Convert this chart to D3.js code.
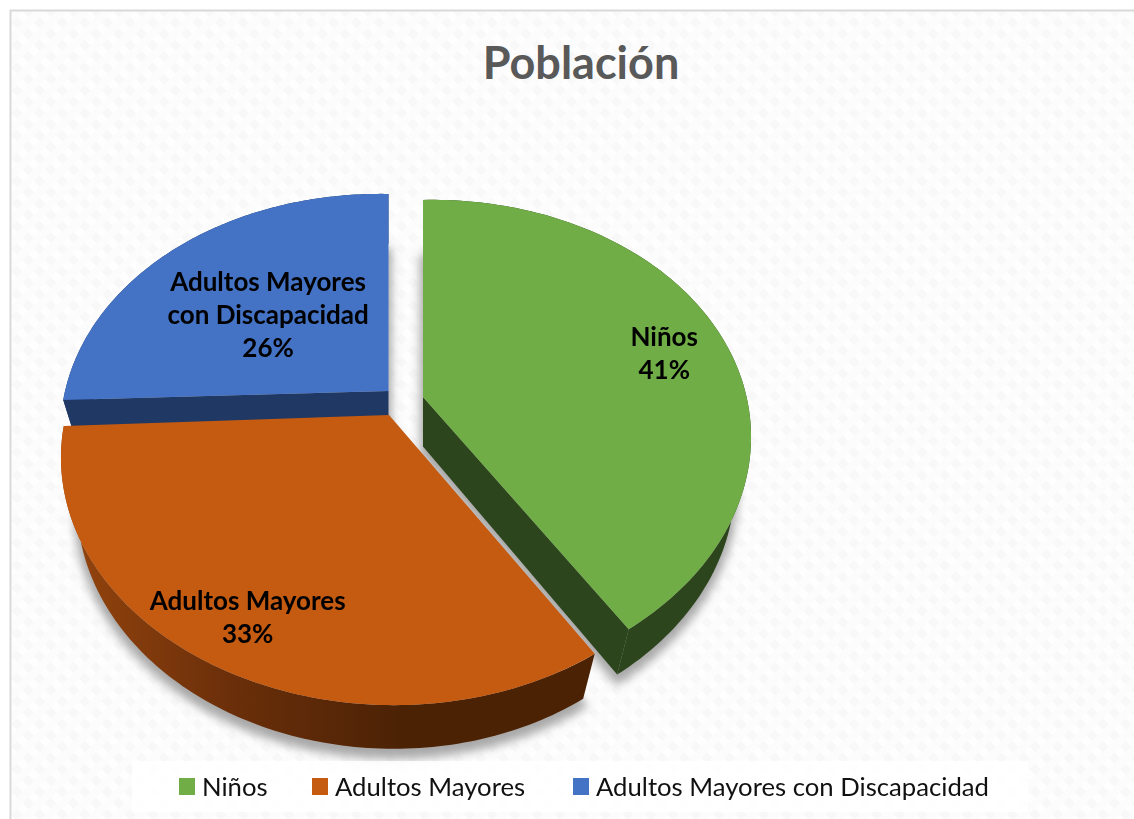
<!DOCTYPE html>
<html>
<head>
<meta charset="utf-8">
<script src="https://cdnjs.cloudflare.com/ajax/libs/d3/7.8.5/d3.min.js"></script>
<style>
  html, body { margin: 0; padding: 0; background: #fff; }
  svg { display: block; }
  text { font-family: Lato, "Open Sans", sans-serif; }
</style>
</head>
<body>
<svg id="chart" width="1134" height="819"></svg>
<script>
// === Datos ===
const categories = ['Niños', 'Adultos Mayores', 'Adultos Mayores con Discapacidad'];
const shares = [41, 33, 26];
const labelLines = [['Niños'], ['Adultos Mayores'], ['Adultos Mayores', 'con Discapacidad']];
const title = 'Población';

// === Colores ===
const topColor = d3.scaleOrdinal(categories, ['#70ad47', '#c55a11', '#4472c4']);
const wallColor = d3.scaleOrdinal(categories, ['#2c451c', 'url(#wallOrange)', '#1f3864']);
const legendColor = d3.scaleOrdinal(categories, ['#70ad47', '#c55a11', '#4472c4']);

// === Proyección en perspectiva del pastel ===
const R = 322, H = 234.7, K = 0.191, DEPTH = 52, M = 0.05;
const apex = { 'Niños': [423, 397], 'Adultos Mayores': [389, 415], 'Adultos Mayores con Discapacidad': [388.5, 391] };
const shear = { 'Niños': -0.02, 'Adultos Mayores': 0.012, 'Adultos Mayores con Discapacidad': 0.018 };
function project(d, a, rho, z) {
  const c = apex[d.data], u = Math.sin(a) * rho, v = Math.cos(a) * rho;
  const w = 1 + K * v + M * z;
  const x = R * u / w;
  return [c[0] + x, c[1] + (-H * v + DEPTH * z) / w + shear[d.data] * x];
}
function arcPoints(d, z) {
  return d3.range(0, 121).map(i => project(d, d.startAngle + (d.endAngle - d.startAngle) * i / 120, 1, z));
}
const line = d3.line();
const closed = pts => line(pts) + 'Z';

const pie = d3.pie().sort(null).value((d, i) => shares[i]);
const slices = pie(categories);

const svg = d3.select('#chart');
const defs = svg.append('defs');

// fondo con textura diagonal
const pat = defs.append('pattern').attr('id', 'bgTexture').attr('patternUnits', 'userSpaceOnUse')
  .attr('width', 16).attr('height', 16).attr('patternTransform', 'rotate(45)');
pat.append('rect').attr('width', 16).attr('height', 16).attr('fill', '#fefefe');
pat.append('rect').attr('width', 16).attr('height', 8).attr('fill', '#f8f8f8');
pat.append('rect').attr('x', 0).attr('width', 8).attr('height', 16).attr('fill', '#fcfcfc');

const grad = defs.append('linearGradient').attr('id', 'wallOrange').attr('gradientUnits', 'userSpaceOnUse')
  .attr('x1', 60).attr('x2', 400).attr('y1', 0).attr('y2', 0);
grad.append('stop').attr('offset', 0).attr('stop-color', '#96450d');
grad.append('stop').attr('offset', 0.5).attr('stop-color', '#6b2f0a');
grad.append('stop').attr('offset', 1).attr('stop-color', '#4c2205');

defs.append('filter').attr('id', 'soft').attr('x', '-10%').attr('y', '-10%').attr('width', '120%').attr('height', '120%')
  .append('feGaussianBlur').attr('stdDeviation', 5);

svg.append('rect').attr('width', 1134).attr('height', 819).attr('fill', '#fff');
svg.append('rect').attr('x', 10).attr('y', 10).attr('width', 1124).attr('height', 809).attr('fill', 'url(#bgTexture)');
svg.append('path').attr('d', 'M10.5,819V10.5H1134').attr('fill', 'none').attr('stroke', '#d9d9d9').attr('stroke-width', 2);

// === Título ===
svg.append('text').attr('x', 581).attr('y', 79).attr('text-anchor', 'middle')
  .attr('font-size', 45).attr('font-weight', 700).attr('fill', '#595959').text(title);

// === Sombras ===
svg.append('g').attr('filter', 'url(#soft)').selectAll('path').data(slices).join('path')
  .attr('d', d => closed([project(d, 0, 0, 1), ...arcPoints(d, 1)]))
  .attr('transform', 'translate(0,7)')
  .attr('fill', '#8c8c8c').attr('stroke', '#8c8c8c').attr('stroke-width', 6).attr('opacity', 0.75);

// === Porciones: verde, azul y naranja encima ===
const drawOrder = [slices[0], slices[2], slices[1]];
const sliceG = svg.append('g').selectAll('g').data(drawOrder).join('g');

sliceG.append('path').attr('class', 'wall')
  .attr('d', d => closed([...arcPoints(d, 0), ...arcPoints(d, 1).reverse()]))
  .attr('fill', d => wallColor(d.data));
sliceG.append('path').attr('class', 'cut-start')
  .attr('d', d => closed([project(d, d.startAngle, 0, 0), project(d, d.startAngle, 1, 0), project(d, d.startAngle, 1, 1), project(d, d.startAngle, 0, 1)]))
  .attr('fill', d => d.data === categories[1] ? 'none' : wallColor(d.data));
sliceG.append('path').attr('class', 'cut-end')
  .attr('d', d => closed([project(d, d.endAngle, 0, 0), project(d, d.endAngle, 1, 0), project(d, d.endAngle, 1, 1), project(d, d.endAngle, 0, 1)]))
  .attr('fill', d => d.data === categories[1] ? 'none' : wallColor(d.data));
sliceG.append('path').attr('class', 'top')
  .attr('d', d => closed([project(d, 0, 0, 0), ...arcPoints(d, 0)]))
  .attr('fill', d => topColor(d.data));

// === Etiquetas ===
const labelRho = [0.8, 0.82, 0.54];
const labelNudge = [[4, 20], [-2, 14], [-2, 16]];
const labelG = svg.append('g').selectAll('text').data(slices).join('text')
  .attr('text-anchor', 'middle').attr('font-size', 26).attr('font-weight', 700).attr('fill', '#000');
labelG.each(function(d, i) {
  const p = project(d, (d.startAngle + d.endAngle) / 2, labelRho[i], 0);
  const lines = labelLines[i].concat(shares[i] + '%');
  const lh = 33;
  d3.select(this).selectAll('tspan').data(lines).join('tspan')
    .attr('x', p[0] + labelNudge[i][0])
    .attr('y', (t, j) => p[1] + labelNudge[i][1] + (j - (lines.length - 1) / 2) * lh)
    .text(t => t);
});

// === Leyenda ===
svg.append('rect').attr('x', 132).attr('y', 761).attr('width', 896).attr('height', 51).attr('fill', '#fff').attr('opacity', 0.8);
const legendX = [179, 312, 573];
const legend = svg.append('g').selectAll('g').data(categories).join('g')
  .attr('transform', (d, i) => `translate(${legendX[i]},778)`);
legend.append('rect').attr('width', 16).attr('height', 17).attr('fill', d => legendColor(d));
legend.append('text').attr('x', 23).attr('y', 17.5).attr('font-size', 25.7).attr('fill', '#111').text(d => d);
</script>
</body>
</html>
